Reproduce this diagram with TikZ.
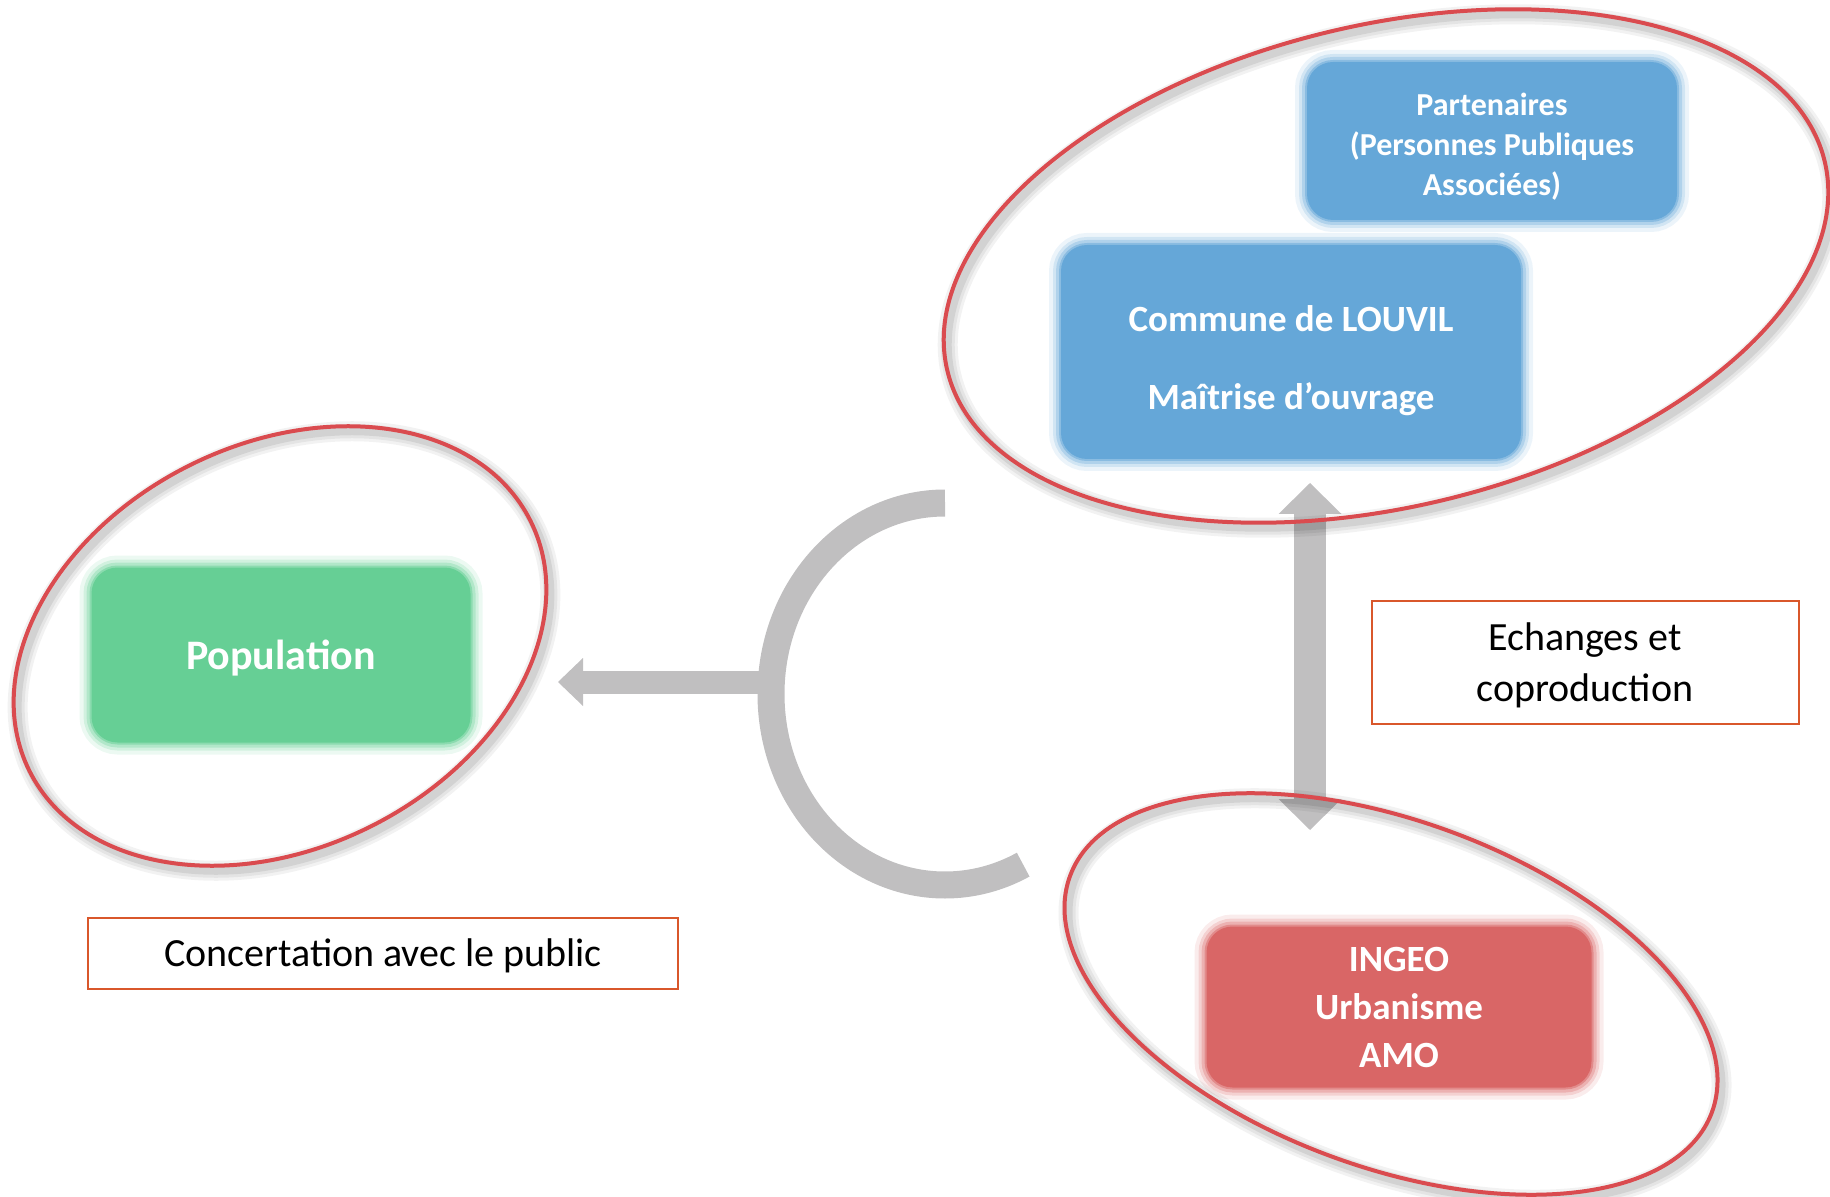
\documentclass[tikz,border=0pt]{standalone}
\usepackage{fontspec}
\setmainfont{Carlito}
\usetikzlibrary{arrows.meta}

\definecolor{boxblue}{HTML}{65A7D8}
\definecolor{boxgreen}{HTML}{66CF95}
\definecolor{boxred}{HTML}{D96666}
\definecolor{ringred}{HTML}{DA4B4F}
\definecolor{arrowgray}{HTML}{C0BFC0}
\definecolor{tagline}{HTML}{D9572B}

\tikzset{
  softbox/.style={rounded corners=13pt, inner sep=0pt, align=center, text=white,
    preaction={draw=#1, draw opacity=0.12, line width=12pt},
    preaction={draw=#1, draw opacity=0.2, line width=8pt},
    preaction={draw=#1, draw opacity=0.3, line width=5pt},
    preaction={draw=#1, draw opacity=0.5, line width=2pt},
    fill=#1},
  tagbox/.style={draw=tagline, line width=1pt, inner sep=0pt, align=center,
    text depth=-1.2pt, font=\fontsize{20}{25.5}\selectfont},
  ring/.style={draw=ringred, line width=2pt},
  bigarrow/.style={draw=arrowgray, line width=16pt},
}

\begin{document}
\begin{tikzpicture}[x=0.5pt,y=0.5pt]
\useasboundingbox (0,0) rectangle (1830,-1197);

% grey links
\draw[arrowgray, line width=13.5pt] (945,-503) arc[start angle=90, end angle=296.7, x radius=174, y radius=191];
\coordinate (hub) at (771,-682);
\coordinate (popTip) at (558,-682);
\draw[draw=arrowgray, line width=11.5pt, -{Triangle[width=24pt,length=12.5pt,line width=0pt]}] (hub) -- (popTip);

\coordinate (upTip) at (1310,-483);
\coordinate (downTip) at (1310,-830);
\draw[bigarrow, {Triangle[width=31.5pt,length=15.5pt,line width=0pt]}-{Triangle[width=31.5pt,length=15.5pt,line width=0pt]}] (downTip) -- (upTip);

% boxes
\node[softbox=boxblue, minimum width=185pt, minimum height=79pt, text depth=-2.8pt, font=\bfseries\fontsize{16}{20}\selectfont] (partners) at (1492,-141)
  {\rule{0pt}{14.5pt}Partenaires\\(Personnes Publiques\\Associées)};
\node[softbox=boxblue, minimum width=230pt, minimum height=107pt, text depth=-4.3pt, font=\bfseries\fontsize{18.5}{39}\selectfont] (commune) at (1291,-352)
  {\rule{0pt}{19pt}Commune de LOUVIL\\Maîtrise d’ouvrage};
\node[softbox=boxgreen, minimum width=189.5pt, minimum height=87.5pt, text depth=0pt, font=\bfseries\fontsize{21}{25}\selectfont] (pop) at (281,-655)
  {Population};
\node[softbox=boxred, minimum width=192.5pt, minimum height=80.5pt, font=\bfseries\fontsize{18.5}{24}\selectfont] (ingeo) at (1399,-1007)
  {INGEO\\Urbanisme\\AMO};

% rings with shadow
\foreach \cx/\cy/\a/\b/\t in {1386/-266/451/241/13.4, 280/-646/280/202/26.5, 1391/-994/342/173/-20.2} {
  \foreach \w/\o in {10pt/0.05, 7pt/0.06, 4pt/0.08}
    \draw[black, line width=\w, draw opacity=\o, rotate around={\t:(\cx+4,\cy-5)}] (\cx+4,\cy-5) ellipse[x radius=\a, y radius=\b];
  \draw[ring, rotate around={\t:(\cx,\cy)}] (\cx,\cy) ellipse[x radius=\a, y radius=\b];
}

% labels
\node[tagbox, minimum width=295pt, minimum height=35.5pt] (concert) at (383,-953) {Concertation avec le public};
\node[tagbox, minimum width=213.5pt, minimum height=61.5pt] (echanges) at (1585,-662) {Echanges et\\coproduction};
\end{tikzpicture}
\end{document}
